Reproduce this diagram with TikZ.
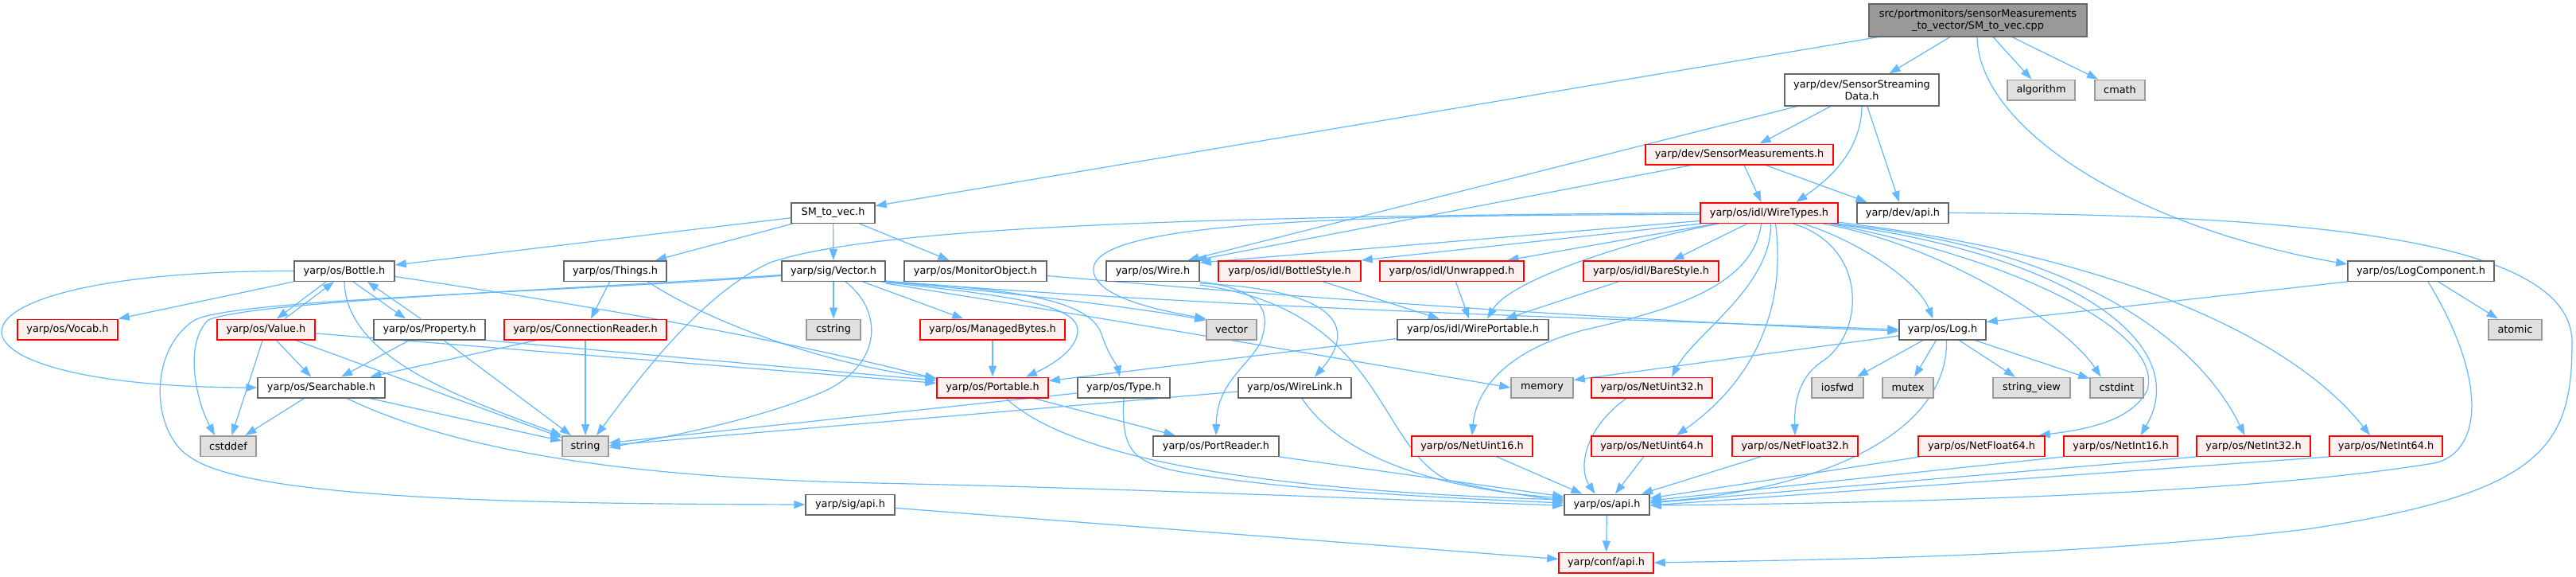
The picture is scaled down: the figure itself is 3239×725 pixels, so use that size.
\documentclass[tikz,border=0pt]{standalone}
\usepackage{fontspec}
\setmainfont{DejaVu Sans}
\usetikzlibrary{arrows.meta,backgrounds}
\definecolor{ec}{HTML}{63B8FF}
\definecolor{cgA}{HTML}{666666}
\definecolor{cgB}{HTML}{999999}
\definecolor{cgC}{HTML}{E0E0E0}
\definecolor{cred}{HTML}{FF0000}
\definecolor{cpink}{HTML}{FFF0F0}
\tikzset{
  nbox/.style={draw, line width=1.5pt, inner sep=0pt, minimum height=25.5pt, font=\fontsize{12.85}{15}\selectfont},
  nw/.style={nbox, draw=cgA, fill=white},
  nr/.style={nbox, draw=cred, fill=cpink},
  ng/.style={nbox, draw=cgB, fill=cgC},
  nroot/.style={nbox, draw=cgA, fill=cgB, align=center},
  edg/.style={draw=ec, line width=1.2pt, -{Triangle[length=14pt,width=10pt]}}
}
\begin{document}
\begin{tikzpicture}[x=1pt,y=-1pt]
\useasboundingbox (0,0) rectangle (3239,725);
% row 0-3
\node[nroot, minimum width=274pt, minimum height=41pt] (root) at (2487,25.5) {src/portmonitors/sensorMeasurements\\\_to\_vector/SM\_to\_vec.cpp};
\node[nw, minimum width=194pt, minimum height=40pt, align=center] (ssd) at (2341,113) {yarp/dev/SensorStreaming\\Data.h};
\node[ng, minimum width=85pt] (algorithm) at (2566.5,113) {algorithm};
\node[ng, minimum width=63pt] (cmath) at (2665.5,113) {cmath};
\node[nr, minimum width=236pt] (sm) at (2187,194) {yarp/dev/SensorMeasurements.h};
\node[nw, minimum width=105pt] (smvec) at (1047.5,267.5) {SM\_to\_vec.h};
\node[nr, minimum width=173pt] (wiretypes) at (2224.5,267.5) {yarp/os/idl/WireTypes.h};
\node[nw, minimum width=115pt] (devapi) at (2392.5,267.5) {yarp/dev/api.h};
% row 4
\node[nw, minimum width=126pt] (bottle) at (433,340.5) {yarp/os/Bottle.h};
\node[nw, minimum width=129pt] (things) at (773.5,340.5) {yarp/os/Things.h};
\node[nw, minimum width=130pt] (vector) at (1048,340.5) {yarp/sig/Vector.h};
\node[nw, minimum width=179pt] (monitor) at (1226.5,340.5) {yarp/os/MonitorObject.h};
\node[nw, minimum width=117pt] (wire) at (1449.5,340.5) {yarp/os/Wire.h};
\node[nr, minimum width=179pt] (bottlestyle) at (1621.5,340.5) {yarp/os/idl/BottleStyle.h};
\node[nr, minimum width=181pt] (unwrapped) at (1825.5,340.5) {yarp/os/idl/Unwrapped.h};
\node[nr, minimum width=170pt] (barestyle) at (2076,340.5) {yarp/os/idl/BareStyle.h};
\node[nw, minimum width=184pt] (logcomp) at (3044,340.5) {yarp/os/LogComponent.h};
% row 5
\node[nr, minimum width=126pt] (vocab) at (85,414) {yarp/os/Vocab.h};
\node[nr, minimum width=123pt] (value) at (334.5,414) {yarp/os/Value.h};
\node[nw, minimum width=140pt] (property) at (540,414) {yarp/os/Property.h};
\node[nr, minimum width=204pt] (connreader) at (736,414) {yarp/os/ConnectionReader.h};
\node[ng, minimum width=68pt] (cstring) at (1048,414) {cstring};
\node[nr, minimum width=182pt] (managed) at (1248,414) {yarp/os/ManagedBytes.h};
\node[ng, minimum width=63pt] (vectorstd) at (1548.5,414) {vector};
\node[nw, minimum width=190pt] (wireportable) at (1852,414) {yarp/os/idl/WirePortable.h};
\node[nw, minimum width=109pt] (log) at (2442.5,414) {yarp/os/Log.h};
\node[ng, minimum width=67pt] (atomic) at (3162.5,414) {atomic};
% row 6
\node[nw, minimum width=160pt] (searchable) at (404,487) {yarp/os/Searchable.h};
\node[nr, minimum width=140pt] (portable) at (1248,487) {yarp/os/Portable.h};
\node[nw, minimum width=116pt] (type) at (1413,487) {yarp/os/Type.h};
\node[nw, minimum width=142pt] (wirelink) at (1628,487) {yarp/os/WireLink.h};
\node[ng, minimum width=78pt] (memory) at (1939,487) {memory};
\node[nr, minimum width=152pt] (netuint32) at (2077,487) {yarp/os/NetUint32.h};
\node[ng, minimum width=65pt] (iosfwd) at (2310.5,487) {iosfwd};
\node[ng, minimum width=64pt] (mutex) at (2399,487) {mutex};
\node[ng, minimum width=97pt] (stringview) at (2554.5,487) {string\_view};
\node[ng, minimum width=67pt] (cstdint) at (2661.5,487) {cstdint};
% row 7
\node[ng, minimum width=70pt] (cstddef) at (287,560.5) {cstddef};
\node[ng, minimum width=58pt] (string) at (736,560.5) {string};
\node[nw, minimum width=158pt] (portreader) at (1529,560.5) {yarp/os/PortReader.h};
\node[nr, minimum width=152pt] (netuint16) at (1851,560.5) {yarp/os/NetUint16.h};
\node[nr, minimum width=152pt] (netuint64) at (2077,560.5) {yarp/os/NetUint64.h};
\node[nr, minimum width=158pt] (netfloat32) at (2257,560.5) {yarp/os/NetFloat32.h};
\node[nr, minimum width=159pt] (netfloat64) at (2491.5,560.5) {yarp/os/NetFloat64.h};
\node[nr, minimum width=143pt] (netint16) at (2666.5,560.5) {yarp/os/NetInt16.h};
\node[nr, minimum width=143pt] (netint32) at (2833.5,560.5) {yarp/os/NetInt32.h};
\node[nr, minimum width=142pt] (netint64) at (3000,560.5) {yarp/os/NetInt64.h};
% row 8-9
\node[nw, minimum width=112pt] (sigapi) at (1069,634) {yarp/sig/api.h};
\node[nw, minimum width=107pt] (osapi) at (2020.5,634) {yarp/os/api.h};
\node[nr, minimum width=119pt] (confapi) at (2019.5,707) {yarp/conf/api.h};

\begin{scope}[on background layer]
\fill[white] (0,0) rectangle (3239,725);
% root
\draw[edg] (root) -- (smvec);
\draw[edg] (root) -- (ssd);
\draw[edg] (root) -- (algorithm);
\draw[edg] (root) -- (cmath);
\draw[edg] ([xshift=-1pt]root.south) .. controls (2488,160) and (2680,285) .. ([yshift=-5pt]logcomp.north west);
% SM_to_vec.h
\draw[edg] (smvec) -- (bottle);
\draw[edg] (smvec) -- (things);
\draw[edg] (smvec) -- (vector);
\draw[edg] (smvec) -- (monitor);
% SensorStreamingData
\draw[edg] (ssd) -- (sm);
\draw[edg] (ssd.south) .. controls (2340,190) and (2300,225) .. ([xshift=34pt]wiretypes.north);
\draw[edg] (ssd) -- (devapi);
\draw[edg] ([xshift=-82pt]ssd.south) -- ([xshift=44pt]wire.north);
% SensorMeasurements
\draw[edg] ([xshift=6pt]sm.south) -- ([xshift=-10pt]wiretypes.north);
\draw[edg] ([xshift=33pt]sm.south) -- ([xshift=-45pt]devapi.north);
\draw[edg] ([xshift=-60pt]sm.south) -- ([xshift=54pt]wire.north);
% WireTypes
\draw[edg] ([yshift=-10pt]wiretypes.west) -- ([yshift=-3pt]wire.north east);
\draw[edg] ([xshift=2pt]wiretypes.south west) -- (bottlestyle.north east);
\draw[edg] ([xshift=20pt]wiretypes.south west) -- ([xshift=70pt]unwrapped.north);
\draw[edg] (wiretypes) -- (barestyle);
\draw[edg] ([xshift=24pt]wiretypes.south west) .. controls (2060,300) and (1900,350) .. ([xshift=18pt]wireportable.north);
\draw[edg] (wiretypes.west) .. controls (1500,272) and (1100,285) .. (968,330) .. controls (880,370) and (800,480) .. ([xshift=14pt]string.north);
\draw[edg] ([yshift=-2pt]wiretypes.west) .. controls (1700,270) and (1380,278) .. (1375,337) .. controls (1372,375) and (1470,392) .. (vectorstd.north west);
\draw[edg] ([xshift=42pt]wiretypes.south) .. controls (2330,300) and (2410,350) .. ([xshift=-12pt]log.north);
\draw[edg] ([xshift=-10pt]wiretypes.south) .. controls (2205,360) and (2100,390) .. (1990,415) .. controls (1880,445) and (1855,500) .. (netuint16.north);
\draw[edg] ([xshift=2pt]wiretypes.south) .. controls (2228,360) and (2130,420) .. ([xshift=25pt]netuint32.north);
\draw[edg] ([xshift=8pt]wiretypes.south) .. controls (2250,420) and (2175,500) .. ([xshift=31pt]netuint64.north);
\draw[edg] ([xshift=30pt]wiretypes.south) .. controls (2350,310) and (2345,420) .. (2290,455) .. controls (2260,475) and (2256,510) .. (netfloat32.north);
\draw[edg] ([xshift=-20pt]wiretypes.south east) .. controls (2450,310) and (2600,410) .. ([xshift=-20pt]cstdint.north);
\draw[edg] ([xshift=-11pt]wiretypes.south east) .. controls (2550,330) and (2720,420) .. (2700,490) .. controls (2680,530) and (2620,540) .. ([xshift=-8pt]netfloat64.north east);
\draw[edg] ([xshift=-8pt]wiretypes.south east) .. controls (2600,320) and (2760,430) .. ([xshift=25pt]netint16.north);
\draw[edg] ([xshift=-5pt]wiretypes.south east) .. controls (2600,310) and (2760,420) .. ([xshift=-11pt]netint32.north);
\draw[edg] ([xshift=-2pt,yshift=2pt]wiretypes.south east) .. controls (2650,320) and (2880,420) .. ([xshift=-20pt]netint64.north);
% idl styles
\draw[edg] (bottlestyle) -- (wireportable);
\draw[edg] (unwrapped) -- (wireportable);
\draw[edg] (barestyle) -- (wireportable);
\draw[edg] (wireportable) -- (portable);
% Wire.h
\draw[edg] (wire.south east) .. controls (1600,365) and (1595,400) .. (1585,430) .. controls (1570,460) and (1530,480) .. (portreader.north);
\draw[edg] ([yshift=-2pt]wire.south east) .. controls (1700,365) and (1700,420) .. ([xshift=25pt]wirelink.north);
\draw[edg] ([yshift=-4pt]wire.south east) .. controls (1740,390) and (1730,560) .. (1820,603) .. controls (1880,618) and (1930,624) .. ([yshift=4pt]osapi.west);
% Vector.h
\draw[edg] (vector) -- (cstring);
\draw[edg] (vector) -- (managed);
\draw[edg] ([xshift=-6pt]vector.south east) .. controls (1250,370) and (1355,380) .. (1355,415) .. controls (1355,440) and (1320,460) .. ([xshift=42pt]portable.north);
\draw[edg] ([xshift=-3pt]vector.south east) .. controls (1250,362) and (1370,372) .. (1385,420) .. controls (1393,445) and (1405,460) .. ([xshift=-5pt]type.north);
\draw[edg] (vector.south east) .. controls (1300,370) and (1450,390) .. ([yshift=-2pt]vectorstd.north west);
\draw[edg] ([yshift=1pt]vector.south east) .. controls (1500,385) and (2000,400) .. (log.west);
\draw[edg] ([yshift=-2pt]vector.south east) .. controls (1450,410) and (1750,462) .. (memory.west);
\draw[edg] ([xshift=15pt]vector.south) .. controls (1110,390) and (1110,455) .. (1040,490) .. controls (950,530) and (820,552) .. ([yshift=-2pt]string.east);
\draw[edg] ([yshift=-5pt]vector.west) .. controls (700,365) and (320,378) .. (262,402) .. controls (232,430) and (245,500) .. ([xshift=-17pt]cstddef.north);
\draw[edg] ([yshift=-6pt]vector.west) .. controls (700,368) and (300,375) .. (245,402) .. controls (185,440) and (190,545) .. (240,575) .. controls (320,630) and (700,633) .. (sigapi.west);
% MonitorObject
\draw[edg] ([yshift=-6pt]monitor.east) .. controls (1700,380) and (2100,405) .. ([yshift=-2pt]log.west);
% ManagedBytes, Portable
\draw[edg] (managed) -- (portable);
\draw[edg] (portable) -- (portreader);
\draw[edg] ([xshift=17pt]portable.south) .. controls (1340,570) and (1550,615) .. ([yshift=6pt]osapi.west);
% Type
\draw[edg] ([yshift=-7pt]type.west) -- ([yshift=4pt]string.east);
\draw[edg] (type.south) .. controls (1410,560) and (1420,580) .. (1480,592) .. controls (1600,615) and (1800,625) .. ([yshift=2pt]osapi.west);
% WireLink
\draw[edg] ([yshift=-5pt]wirelink.west) -- ([yshift=1pt]string.east);
\draw[edg] ([xshift=9pt]wirelink.south) .. controls (1690,580) and (1820,615) .. ([yshift=8pt]osapi.west);
% PortReader
\draw[edg] (portreader.south east) -- ([yshift=10pt]osapi.west);
% Searchable
\draw[edg] ([xshift=32pt]searchable.south) .. controls (560,560) and (760,600) .. (1100,607) .. controls (1400,613) and (1800,630) .. ([yshift=-1pt]osapi.west);
\draw[edg] (searchable) -- (cstddef);
\draw[edg] (searchable) -- (string);
% Value
\draw[edg] (value) -- (searchable);
\draw[edg] (value) -- (cstddef);
\draw[edg] (value) -- (string);
\draw[edg] (value) -- (portable);
\draw[edg] ([xshift=23.5pt]value.north) -- ([xshift=-13pt]bottle.south);
% Property
\draw[edg] (property) -- (searchable);
\draw[edg] (property) -- (string);
\draw[edg] (property.south east) -- ([yshift=9pt]portable.west);
\draw[edg] ([xshift=-11pt]property.north) -- ([xshift=29pt]bottle.south);
% Bottle
\draw[edg] (bottle) -- (vocab);
\draw[edg] ([xshift=-23pt]bottle.south) -- ([xshift=13.5pt]value.north);
\draw[edg] ([xshift=11pt]bottle.south) -- ([xshift=-30pt]property.north);
\draw[edg] (bottle.west) .. controls (-110,340) and (-110,486) .. (searchable.west);
\draw[edg] (bottle.south) .. controls (435,450) and (580,500) .. (string.north west);
\draw[edg] ([yshift=-7pt]bottle.east) .. controls (750,385) and (1000,430) .. ([yshift=11pt]portable.west);
% Things
\draw[edg] ([xshift=41pt]things.south) .. controls (900,410) and (1050,460) .. ([yshift=12pt]portable.west);
\draw[edg] (things) -- (connreader);
% ConnectionReader
\draw[edg] (connreader) -- (string);
\draw[edg] (connreader) -- (searchable);
% Log
\draw[edg] ([yshift=-8pt]log.west) -- ([yshift=-4pt]memory.north east);
\draw[edg] (log) -- (iosfwd);
\draw[edg] (log) -- (mutex);
\draw[edg] (log) -- (stringview);
\draw[edg] (log) -- (cstdint);
\draw[edg] ([xshift=5pt]log.south) .. controls (2450,540) and (2300,615) .. ([yshift=3pt]osapi.east);
% LogComponent
\draw[edg] (logcomp.south west) -- ([yshift=-4pt]log.north east);
\draw[edg] (logcomp) -- (atomic);
\draw[edg] ([xshift=9pt]logcomp.south) .. controls (3130,480) and (3120,570) .. (3060,582) .. controls (2800,625) and (2300,633) .. ([yshift=-1pt]osapi.east);
% dev/api.h
\draw[edg] (devapi.east) .. controls (2900,270) and (3234,300) .. (3234,430) .. controls (3234,560) and (3200,620) .. (2900,665) .. controls (2600,700) and (2300,703) .. (confapi.east);
% api
\draw[edg] (osapi) -- (confapi);
\draw[edg] (sigapi) -- (confapi);
% Net*
\draw[edg] (netuint16) -- (osapi);
\draw[edg] ([xshift=-32pt]netuint32.south) .. controls (1990,540) and (1985,590) .. ([xshift=-15pt]osapi.north);
\draw[edg] (netuint64) -- (osapi);
\draw[edg] (netfloat32) -- (osapi);
\draw[edg] ([xshift=3pt]netfloat64.south west) -- ([yshift=8pt]osapi.east);
\draw[edg] (netint16.south west) -- ([yshift=5pt]osapi.east);
\draw[edg] (netint32.south west) -- ([yshift=2pt]osapi.east);
\draw[edg] (netint64.south west) -- ([yshift=-1pt]osapi.east);
\end{scope}
\end{tikzpicture}
\end{document}
